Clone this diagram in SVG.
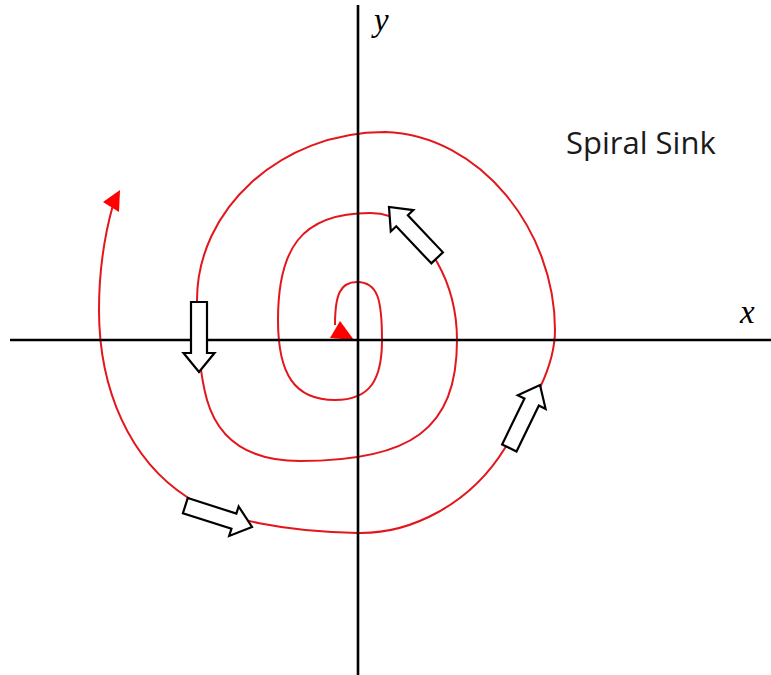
<svg xmlns="http://www.w3.org/2000/svg" width="771" height="675" viewBox="0 0 771 675">
<style>
.axis{stroke:#000;stroke-width:2.6;fill:none}
.traj{stroke:#e3161c;stroke-width:2;fill:none}
.head{fill:#ff0000;stroke:none}
.blk{fill:#fff;stroke:#000;stroke-width:2.2;stroke-linejoin:miter}
.lbl{font-family:"Liberation Serif",serif;font-style:italic;fill:#000}
.title{font-family:"Open Sans","Liberation Sans",sans-serif;fill:#1a1a1a}
</style>
<defs>
<polygon id="blockArrow" points="-70,-8 -19,-8 -19,-15.5 0,0 -19,15.5 -19,8 -70,8"/>
</defs>
<rect width="771" height="675" fill="#fff"/>
<g id="trajectory">
<path class="traj" d="M113,205 C106,230 99,265 99,310 C99,390 130,460 187,497 C220,520 290,532 358,533 C410,534 470,505 505,448 C530,408 555,370 555,330 C555,230 480,135 385,132 C280,132 197,210 197,300 C197,340 200,375 207,400 C220,445 255,461 300,461 C410,461 457,430 457,340 C457,310 450,285 437,262 C420,232 400,213 370,213 C300,213 278,250 278,320 C278,375 295,400 335,400 C370,400 382,380 382,340 C382,300 378,282 357,282 C340,282 335,295 335,325"/>
<polygon class="head" points="120,190 103,202 119,212"/>
<polygon class="head" points="340,321 330,338 354,340"/>
</g>
<g id="axes">
<line class="axis" x1="358" y1="5" x2="358" y2="675"/>
<line class="axis" x1="10" y1="340" x2="771" y2="340"/>
</g>
<g id="direction-arrows">
<use href="#blockArrow" class="blk" transform="translate(199,372) rotate(90)"/>
<use href="#blockArrow" class="blk" transform="translate(252,527) rotate(17.8)"/>
<use href="#blockArrow" class="blk" transform="translate(540,385) rotate(-64)"/>
<use href="#blockArrow" class="blk" transform="translate(389,207) rotate(-133.4)"/>
</g>
<g id="labels">
<text class="lbl" x="374" y="31" font-size="33">y</text>
<text class="lbl" x="740" y="323" font-size="33">x</text>
<text class="title" x="566" y="154" font-size="31">Spiral Sink</text>
</g>
</svg>
